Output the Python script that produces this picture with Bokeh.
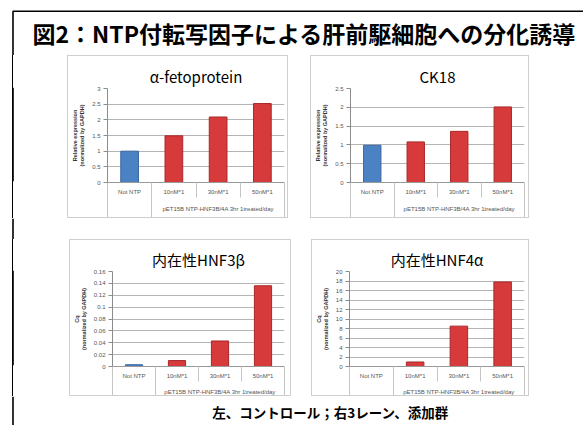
from bokeh.plotting import figure
from bokeh.models import (FactorRange, Range1d, LinearAxis, FixedTicker, SingleIntervalTicker,
                          NumeralTickFormatter, Span, Label, Spacer)
from bokeh.layouts import column, row
from bokeh.embed import file_html
from bokeh.resources import INLINE

# ---------------- data ----------------
main_title = "図2：NTP付転写因子による肝前駆細胞への分化誘導"
caption = "左、コントロール；右3レーン、添加群"
categories = ["Not NTP", "10nM*1", "30nM*1", "50nM*1"]
group_label = "pET15B NTP-HNF3B/4A 3hr 1treated/day"

afp_title = "α-fetoprotein"
afp_values = [1.0, 1.49, 2.09, 2.52]
ck18_title = "CK18"
ck18_values = [0.99, 1.08, 1.36, 2.01]
hnf3b_title = "内在性HNF3β"
hnf3b_values = [0.003, 0.010, 0.043, 0.136]
hnf4a_title = "内在性HNF4α"
hnf4a_values = [0.0, 0.95, 8.5, 17.8]

ylabel_rel = "Relative expression\n(normalized by GAPDH)"
ylabel_cq = "Cq\n(normalized by GAPDH)"

CJK = "Noto Sans CJK JP"
SMALL = "Liberation Sans"
LINE_X = 12.5
LINE_CSS = ("linear-gradient(to right, #fff 0px, #fff 11.7px, #000 11.7px, "
            "#000 13.3px, #fff 13.3px, #fff 100%)")


def blank(w, h):
    p = figure(width=w, height=h, x_range=Range1d(0, w), y_range=Range1d(0, h),
               output_backend="svg", toolbar_location=None, min_border=0,
               x_axis_location=None, y_axis_location=None)
    p.outline_line_color = None
    p.xgrid.visible = False
    p.ygrid.visible = False
    p.background_fill_color = "white"
    p.border_fill_color = "white"
    return p


def strip(w, h):
    # transparent figure whose host carries the slide's vertical black frame line
    p = figure(width=w, height=h, x_range=Range1d(0, w), y_range=Range1d(0, h),
               output_backend="svg", toolbar_location=None, min_border=0,
               x_axis_location=None, y_axis_location=None,
               styles={"background": LINE_CSS})
    p.outline_line_color = None
    p.xgrid.visible = False
    p.ygrid.visible = False
    p.background_fill_alpha = 0
    p.border_fill_alpha = 0
    p.add_layout(Span(location=LINE_X, dimension="height", line_color="black", line_width=1.6))
    return p


def chart(title, values, ymax, step, ylabel, W, H, L, R, T, B, long_tick, group_standoff):
    n = len(categories)
    p = figure(width=W, height=H,
               x_range=FactorRange(factors=categories, range_padding=0),
               y_range=Range1d(0, ymax),
               output_backend="svg", toolbar_location=None, x_axis_location=None,
               min_border_left=L, min_border_right=R, min_border_top=T, min_border_bottom=B,
               title=title,
               styles={"border": "1px solid #cfcfcf", "box-sizing": "border-box"})
    p.outline_line_color = None
    p.background_fill_color = "white"
    p.border_fill_color = "white"
    p.title.align = "center"
    p.title.text_font = CJK
    p.title.text_font_size = "15px"
    p.title.text_font_style = "normal"
    p.title.text_color = "#000000"
    p.title.standoff = 3

    colors = ["#4a82c4"] + ["#d63a3a"] * (n - 1)
    lines = ["#3a67a0"] + ["#a82828"] * (n - 1)
    p.vbar(x=categories, top=values, width=0.4, fill_color=colors, line_color=lines, line_width=1)

    # y axis
    p.yaxis.ticker = SingleIntervalTicker(interval=step, num_minor_ticks=0)
    p.yaxis.formatter = NumeralTickFormatter(format="0.[00]")
    p.yaxis.major_label_text_font = SMALL
    p.yaxis.major_label_text_font_size = "6px"
    p.yaxis.major_label_text_color = "#555555"
    p.yaxis.major_tick_out = 4
    p.yaxis.major_tick_in = 0
    p.yaxis.minor_tick_line_color = None
    p.yaxis.major_tick_line_color = "#8c8c8c"
    p.yaxis.axis_line_color = "#8c8c8c"
    p.yaxis.major_label_standoff = 3
    p.yaxis.axis_label = ylabel
    p.yaxis.axis_label_text_font = SMALL
    p.yaxis.axis_label_text_font_size = "5.5px"
    p.yaxis.axis_label_text_font_style = "bold"
    p.yaxis.axis_label_text_color = "#333333"
    p.yaxis.axis_label_standoff = 4
    p.ygrid.grid_line_color = "#b4b4b4"
    p.xgrid.visible = False

    # category axis with separators: ticks in the factor range's synthetic coordinates
    centers = [i + 0.5 for i in range(n)]
    ax1 = LinearAxis(ticker=FixedTicker(ticks=centers, minor_ticks=list(range(n + 1))),
                     major_label_overrides={c: cat for c, cat in zip(centers, categories)},
                     axis_line_color="#9a9a9a", major_tick_out=0, major_tick_in=0,
                     minor_tick_out=15, minor_tick_in=0, minor_tick_line_color="#c4c4c4",
                     major_label_standoff=-9, major_label_text_font=SMALL,
                     major_label_text_font_size="6px", major_label_text_color="#555555")
    gcenter = (1 + n) / 2
    ax2 = LinearAxis(ticker=FixedTicker(ticks=[gcenter], minor_ticks=[0, 1, n]),
                     major_label_overrides={gcenter: group_label},
                     axis_line_color=None, major_tick_out=0, major_tick_in=0,
                     minor_tick_out=long_tick, minor_tick_in=0, minor_tick_line_color="#c4c4c4",
                     major_label_standoff=group_standoff, major_label_text_font=SMALL,
                     major_label_text_font_size="6px", major_label_text_color="#555555")
    p.add_layout(ax1, "below")
    p.add_layout(ax2, "below")
    return p


# ---------------- title ----------------
tfig = blank(583, 55)
tfig.line(x=[LINE_X, LINE_X, 583], y=[0, 44.3, 44.3], line_color="black", line_width=1.6)
tfig.add_layout(Label(x=32, y=23, text=main_title, text_font=CJK,
                      text_font_size="23px", text_font_style="bold", text_baseline="middle",
                      text_color="black"))

# ---------------- charts ----------------
tl = chart(afp_title, afp_values, 3, 0.5, ylabel_rel, 221, 163, 36, 5, 32, 37, 26, -18)
tr = chart(ck18_title, ck18_values, 2.5, 0.5, ylabel_rel, 219, 163, 35, 6, 32, 37, 26, -18)
bl = chart(hnf3b_title, hnf3b_values, 0.16, 0.02, ylabel_cq, 222, 157, 40, 8, 31, 31, 20, -13)
br = chart(hnf4a_title, hnf4a_values, 20, 2, ylabel_cq, 218, 157, 32, 6, 31, 31, 20, -13)

row1 = row(strip(67, 163), tl, Spacer(width=22, height=163), tr, Spacer(width=54, height=163))

gap = blank(583, 21)
gap.add_layout(Span(location=LINE_X, dimension="height", line_color="black", line_width=1.6))

row2 = row(strip(69, 157), bl, Spacer(width=20, height=157), br, Spacer(width=54, height=157))

cfig = blank(583, 29)
cfig.add_layout(Span(location=LINE_X, dimension="height", line_color="black", line_width=1.6))
cfig.add_layout(Label(x=330, y=14, text=caption, text_font=CJK, text_font_size="13.5px",
                      text_font_style="bold", text_align="center", text_baseline="middle",
                      text_color="black"))

layout = column(tfig, row1, gap, row2, cfig)

open("out.html", "w").write(file_html(layout, INLINE))
